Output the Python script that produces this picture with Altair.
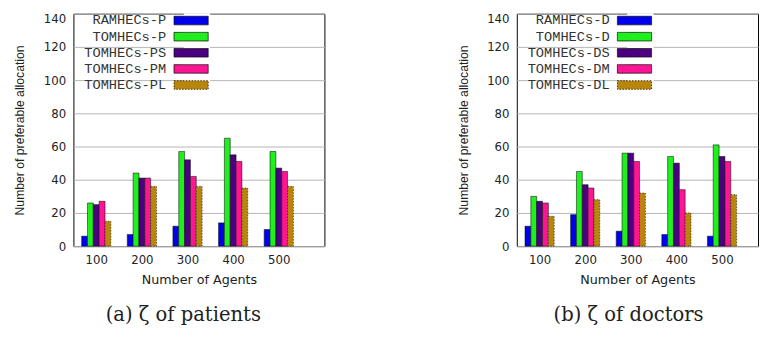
import altair as alt
import pandas as pd

agents = [100, 200, 300, 400, 500]

patient_series = ["RAMHECs-P", "TOMHECs-P", "TOMHECs-PS", "TOMHECs-PM", "TOMHECs-PL"]
ramhecs_p = [6, 7, 12, 14, 10]
tomhecs_p = [26, 44, 57, 65, 57]
tomhecs_ps = [25, 41, 52, 55, 47]
tomhecs_pm = [27, 41, 42, 51, 45]
tomhecs_pl = [15, 36, 36, 35, 36]

doctor_series = ["RAMHECs-D", "TOMHECs-D", "TOMHECs-DS", "TOMHECs-DM", "TOMHECs-DL"]
ramhecs_d = [12, 19, 9, 7, 6]
tomhecs_d = [30, 45, 56, 54, 61]
tomhecs_ds = [27, 37, 56, 50, 54]
tomhecs_dm = [26, 35, 51, 34, 51]
tomhecs_dl = [18, 28, 32, 20, 31]

colors = ["#0000ee", "#1ef01e", "#4b0082", "#ff1493", "#b8860b"]
dashes = [[1, 0], [1, 0], [1, 0], [1, 0], [1.5, 1.5]]


def make_df(series, columns):
    rows = []
    for i, (name, vals) in enumerate(zip(series, columns)):
        for a, v in zip(agents, vals):
            rows.append({"agents": a, "series": name, "idx": i, "value": v})
    return pd.DataFrame(rows)


def panel(df, series, caption, width, xmax, caption_dx):
    return alt.Chart(df).transform_calculate(
        x0="datum.agents / 100 + (datum.idx - 2.5) * 0.128",
        x1="datum.agents / 100 + (datum.idx - 1.5) * 0.128",
    ).mark_bar(stroke="#111111", strokeWidth=0.6).encode(
        x=alt.X(
            "x0:Q",
            scale=alt.Scale(domain=[0.5, xmax], nice=False, zero=False),
            axis=alt.Axis(
                values=[1, 2, 3, 4, 5],
                labelExpr="datum.value * 100",
                title="Number of Agents",
                grid=False,
                ticks=False,
                domain=False,
                labelFont="DejaVu Sans",
                labelFontSize=12,
                labelPadding=9,
                titleFont="DejaVu Sans",
                titleFontSize=13,
                titlePadding=8,
            ),
        ),
        x2="x1:Q",
        y=alt.Y(
            "value:Q",
            scale=alt.Scale(domain=[0, 140], nice=False),
            axis=alt.Axis(
                values=list(range(0, 141, 20)),
                title="Number of preferable allocation",
                ticks=False,
                domain=False,
                labelFont="DejaVu Sans",
                labelFontSize=12,
                labelPadding=8,
                titleFont="Liberation Sans",
                titleFontSize=12.5,
                titlePadding=17,
                labelBaseline={"expr": "datum.value == 140 ? 'top' : 'middle'"},
            ),
        ),
        y2=alt.datum(0),
        color=alt.Color(
            "series:N",
            sort=series,
            scale=alt.Scale(domain=series, range=colors),
            legend=alt.Legend(
                title=None,
                orient="none",
                legendX=113,
                legendY=-0.5,
                direction="vertical",
                symbolType="M-2.5,-0.625H2.5V0.625H-2.5Z",
                symbolSize=196,
                symbolStrokeColor="#111111",
                symbolStrokeWidth=0.8,
                symbolOpacity=1,
                labelFont="Liberation Mono",
                labelFontSize=14,
                labelColor="#333333",
                labelAlign="right",
                labelOffset={"expr": "-33"},
                labelLimit=200,
                rowPadding=1.5,
                padding=0,
                fillColor="white",
            ),
        ),
        strokeDash=alt.StrokeDash(
            "series:N", scale=alt.Scale(domain=series, range=dashes), legend=None
        ),
    ).properties(
        width=width,
        height=238,
        title=alt.TitleParams(
            caption,
            orient="bottom",
            font="DejaVu Serif",
            fontSize=20,
            fontWeight="normal",
            color="#222222",
            offset=20,
            dx=caption_dx,
        ),
    )


left = panel(
    make_df(patient_series, [ramhecs_p, tomhecs_p, tomhecs_ps, tomhecs_pm, tomhecs_pl]),
    patient_series, "(a) ζ of patients", 257, 6.0, -16,
)
right = panel(
    make_df(doctor_series, [ramhecs_d, tomhecs_d, tomhecs_ds, tomhecs_dm, tomhecs_dl]),
    doctor_series, "(b) ζ of doctors", 247, 5.79, -9,
)

chart = alt.hconcat(left, right, spacing=134).resolve_scale(
    color="independent", strokeDash="independent"
).properties(
    padding={"left": 5, "top": 0, "right": 0, "bottom": 0}
).configure_view(
    stroke="black", strokeWidth=1
).configure_axis(
    labelColor="#222222",
    titleFontWeight="normal",
    titleColor="#222222",
    gridColor="#b5b5b5",
    gridWidth=1,
)

chart.save("out.html", embed_options={"renderer": "svg", "actions": False})
